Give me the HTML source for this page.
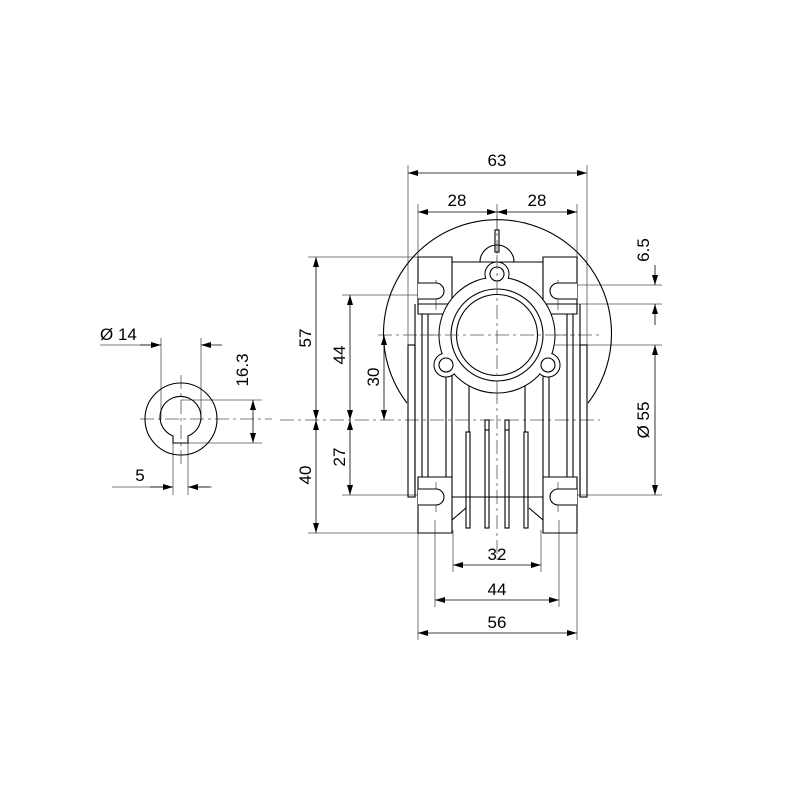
<!DOCTYPE html>
<html><head><meta charset="utf-8"><style>body{margin:0;background:#fff}svg{display:block}text{font-family:"Liberation Sans",sans-serif;font-size:17px;fill:#000}</style></head><body>
<svg width="800" height="800" viewBox="0 0 800 800" xmlns="http://www.w3.org/2000/svg">
<defs><marker id="a" viewBox="0 0 10 6" refX="10" refY="3" markerWidth="10" markerHeight="6" orient="auto-start-reverse" markerUnits="userSpaceOnUse"><path d="M0,0L10,3L0,6z" fill="#000"/></marker></defs>
<g stroke="#555" stroke-width="0.8" fill="none">
<line x1="408" y1="165" x2="408" y2="345"/><line x1="587" y1="165" x2="587" y2="345"/>
<line x1="418" y1="204" x2="418" y2="260"/><line x1="577" y1="204" x2="577" y2="260"/><line x1="497" y1="204" x2="497" y2="230"/>
<line x1="308" y1="257" x2="420" y2="257"/><line x1="308" y1="533" x2="420" y2="533"/>
<line x1="342" y1="295" x2="440" y2="295"/><line x1="342" y1="495" x2="440" y2="495"/>
<line x1="555" y1="285" x2="662" y2="285"/><line x1="555" y1="304" x2="662" y2="304"/>
<line x1="555" y1="345" x2="662" y2="345"/><line x1="560" y1="495" x2="662" y2="495"/>
<line x1="418" y1="533" x2="418" y2="640"/><line x1="577" y1="533" x2="577" y2="640"/>
<line x1="435" y1="520" x2="435" y2="607"/><line x1="559" y1="520" x2="559" y2="607"/>
<line x1="453" y1="530" x2="453" y2="572"/><line x1="541" y1="530" x2="541" y2="572"/>
<line x1="161" y1="338" x2="161" y2="420"/><line x1="201" y1="338" x2="201" y2="420"/>
<line x1="181" y1="400" x2="262" y2="400"/><line x1="188" y1="443" x2="262" y2="443"/>
<line x1="173" y1="443" x2="173" y2="495"/><line x1="188" y1="443" x2="188" y2="495"/>
<line x1="100" y1="345" x2="161" y2="345"/><line x1="112" y1="487" x2="173" y2="487"/><line x1="188" y1="487" x2="212" y2="487"/>
<line x1="436" y1="280" x2="436" y2="310"/><line x1="558" y1="280" x2="558" y2="310"/>
<line x1="436" y1="482" x2="436" y2="512"/><line x1="558" y1="482" x2="558" y2="512"/>
</g>
<g stroke="#555" stroke-width="0.8" stroke-dasharray="14,4,3,4" fill="none">
<line x1="280" y1="420" x2="600" y2="420"/><line x1="378" y1="335" x2="600" y2="335"/>
<line x1="497" y1="215" x2="497" y2="560"/>
<line x1="140" y1="419" x2="272" y2="419"/><line x1="181" y1="375" x2="181" y2="465"/>
</g>
<g stroke="#000" stroke-width="0.8" fill="none" marker-start="url(#a)" marker-end="url(#a)">
<line x1="408" y1="173" x2="587" y2="173"/>
<line x1="418" y1="212" x2="497" y2="212"/><line x1="497" y1="212" x2="577" y2="212"/>
<line x1="316" y1="257" x2="316" y2="420"/><line x1="316" y1="420" x2="316" y2="533"/>
<line x1="350" y1="295" x2="350" y2="420"/><line x1="350" y1="420" x2="350" y2="495"/>
<line x1="384" y1="335" x2="384" y2="420"/>
<line x1="655" y1="345" x2="655" y2="495"/>
<line x1="453" y1="565" x2="541" y2="565"/><line x1="435" y1="600" x2="559" y2="600"/><line x1="418" y1="633" x2="577" y2="633"/>
<line x1="253" y1="400" x2="253" y2="443"/>
</g>
<g stroke="#000" stroke-width="0.8" fill="none">
<line x1="655" y1="265" x2="655" y2="285" marker-end="url(#a)"/><line x1="655" y1="325" x2="655" y2="304" marker-end="url(#a)"/>
<line x1="140" y1="345" x2="161" y2="345" marker-end="url(#a)"/><line x1="222" y1="345" x2="201" y2="345" marker-end="url(#a)"/>
<line x1="150" y1="487" x2="173" y2="487" marker-end="url(#a)"/><line x1="210" y1="487" x2="188" y2="487" marker-end="url(#a)"/>
</g>
<g stroke="#000" stroke-width="1.1" fill="none">
<path d="M407,403 A114,114 0 1,1 588,403"/>
<rect x="408" y="345" width="7" height="152"/><rect x="580" y="345" width="7" height="152"/>
<line x1="415" y1="304" x2="415" y2="497"/><line x1="580" y1="304" x2="580" y2="497"/>
<line x1="422" y1="314" x2="422" y2="477"/><line x1="428" y1="314" x2="428" y2="477"/>
<line x1="567" y1="314" x2="567" y2="477"/><line x1="573" y1="314" x2="573" y2="477"/>
<line x1="446" y1="370" x2="446" y2="477"/><line x1="452" y1="370" x2="452" y2="477"/>
<line x1="543" y1="370" x2="543" y2="477"/><line x1="549" y1="370" x2="549" y2="477"/>
<path d="M418,304 V257 H452 V304 Z M543,304 V257 H577 V304 Z"/>
<path d="M452,262 H543"/>
<path d="M418,304 V314 H452 M577,304 V314 H543"/>
<path d="M418,477 H452 V533 H418 Z M543,477 H577 V533 H543 Z"/>
<path d="M452,497 H543 M452,520 L466,508 M543,520 L529,508"/>
<path d="M418,283 H436 A8,8 0 0,1 436,299 H418 M577,283 H558 A8,8 0 0,0 558,299 H577" fill="#fff"/>
<path d="M418,489 H436 A8,8 0 0,1 436,505 H418 M577,489 H558 A8,8 0 0,0 558,505 H577" fill="#fff"/>
<rect x="466" y="432" width="4" height="96"/><rect x="485" y="420" width="4" height="108"/><rect x="505" y="420" width="4" height="108"/><rect x="524" y="432" width="4" height="96"/>
<line x1="485" y1="430" x2="489" y2="430"/><line x1="505" y1="430" x2="509" y2="430"/>
<line x1="469" y1="380" x2="469" y2="432"/><line x1="525" y1="380" x2="525" y2="432"/>
<path d="M480,262 A17,17 0 0,1 514,262"/>
<rect x="495" y="230" width="4" height="22"/>
<circle cx="497" cy="335" r="58" fill="#fff"/>
<circle cx="497" cy="274" r="12" fill="#fff"/><circle cx="446" cy="365" r="12" fill="#fff"/><circle cx="548" cy="365" r="12" fill="#fff"/>
</g>
<g fill="#fff" stroke="none">
<circle cx="497" cy="335" r="57.4"/>
<circle cx="497" cy="274" r="11.4"/><circle cx="446" cy="365" r="11.4"/><circle cx="548" cy="365" r="11.4"/>
</g>
<g stroke="#000" stroke-width="1.1" fill="none">
<circle cx="497" cy="335" r="46"/><circle cx="497" cy="335" r="40.5"/>
<circle cx="497" cy="274" r="7"/><circle cx="446" cy="365" r="7"/><circle cx="548" cy="365" r="7"/>
<circle cx="181" cy="419" r="36"/>
<path d="M173,436 A20.5,20.5 0 1,1 188,436 V443 H173 Z"/>
</g>
<g stroke="#555" stroke-width="0.8" stroke-dasharray="14,4,3,4" fill="none">
<line x1="420" y1="335" x2="575" y2="335"/><line x1="497" y1="255" x2="497" y2="400"/>
</g>
<text x="497" y="174" text-anchor="middle" dy="-8">63</text>
<text x="457" y="206" text-anchor="middle">28</text><text x="537" y="206" text-anchor="middle">28</text>
<text x="497" y="560" text-anchor="middle">32</text><text x="497" y="595" text-anchor="middle">44</text><text x="497" y="628" text-anchor="middle">56</text>
<text x="100" y="340">Ø 14</text><text x="140" y="481" text-anchor="middle">5</text>
<text transform="translate(311,338) rotate(-90)" text-anchor="middle">57</text>
<text transform="translate(311,475) rotate(-90)" text-anchor="middle">40</text>
<text transform="translate(345,355) rotate(-90)" text-anchor="middle">44</text>
<text transform="translate(345,457) rotate(-90)" text-anchor="middle">27</text>
<text transform="translate(379,377) rotate(-90)" text-anchor="middle">30</text>
<text transform="translate(649,250) rotate(-90)" text-anchor="middle">6.5</text>
<text transform="translate(649,420) rotate(-90)" text-anchor="middle">Ø 55</text>
<text transform="translate(248,370) rotate(-90)" text-anchor="middle">16.3</text>
</svg>
</body></html>
